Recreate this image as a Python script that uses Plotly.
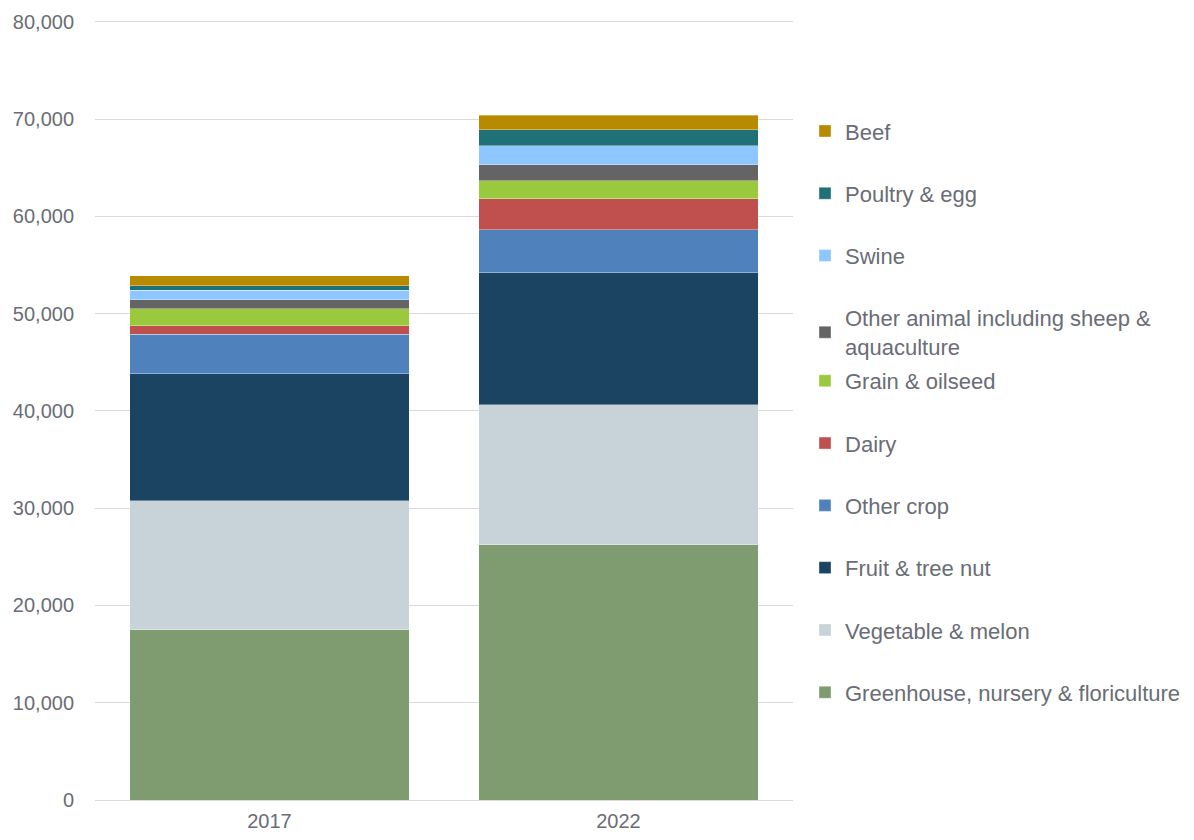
import plotly.graph_objects as go

years = ["2017", "2022"]
series_names = [
    "Greenhouse, nursery & floriculture",
    "Vegetable & melon",
    "Fruit & tree nut",
    "Other crop",
    "Dairy",
    "Grain & oilseed",
    "Other animal including sheep &<br>aquaculture",
    "Swine",
    "Poultry & egg",
    "Beef",
]
greenhouse = [17480, 26220]
vegetable = [13270, 14400]
fruit = [13050, 13570]
other_crop = [4100, 4420]
dairy = [870, 3220]
grain = [1720, 1820]
other_animal = [960, 1650]
swine = [960, 1980]
poultry = [480, 1610]
beef = [990, 1510]
tick_values = [0, 10000, 20000, 30000, 40000, 50000, 60000, 70000, 80000]

values = [greenhouse, vegetable, fruit, other_crop, dairy, grain,
          other_animal, swine, poultry, beef]
colors = ["#7E9C70", "#C8D3D9", "#1A4462", "#4F81BD", "#C0504D",
          "#9BC93D", "#646464", "#8EC7FF", "#207078", "#B88A00"]

TXT = "#6A6D75"

fig = go.Figure()
n = len(series_names)
for i, (name, vals, col) in enumerate(zip(series_names, values, colors)):
    fig.add_trace(go.Bar(
        x=years, y=vals, name=name, marker_color=col,
        marker_line_width=0.6, marker_line_color="rgba(255,255,255,0.6)",
        legendgroup=f"g{i}", legendrank=n - i,
        legend="legend" if i >= 6 else "legend2",
    ))

leg_common = dict(
    xanchor="left", yanchor="top",
    traceorder="grouped", tracegroupgap=30.7,
    font=dict(size=22, color=TXT),
    itemwidth=30, bgcolor="rgba(0,0,0,0)",
)

# plot height 783 px covers 0..80500 so 0..80000 spans ~778 px
fig.update_layout(
    barmode="stack",
    bargap=0.2,
    width=1178, height=824,
    margin=dict(l=87, r=393, t=9, b=32, autoexpand=False),
    plot_bgcolor="white", paper_bgcolor="white",
    font=dict(family="Liberation Sans, Arial, sans-serif", size=20, color=TXT),
    legend=dict(x=1.0172, y=0.881, **leg_common),
    legend2=dict(x=1.0172, y=0.562, **leg_common),
    xaxis=dict(showline=True, linecolor="#D9D9D9", linewidth=1, ticks="",
               automargin=False, ticklabelstandoff=3,
               tickfont=dict(size=20, color=TXT)),
    yaxis=dict(range=[0, 80500], tickvals=tick_values,
               tickformat=",d",
               gridcolor="#D9D9D9", gridwidth=1, zeroline=False,
               automargin=False, ticks="", ticklen=0, ticklabelstandoff=20,
               tickfont=dict(size=20, color=TXT)),
)

fig.write_html("out.html")
